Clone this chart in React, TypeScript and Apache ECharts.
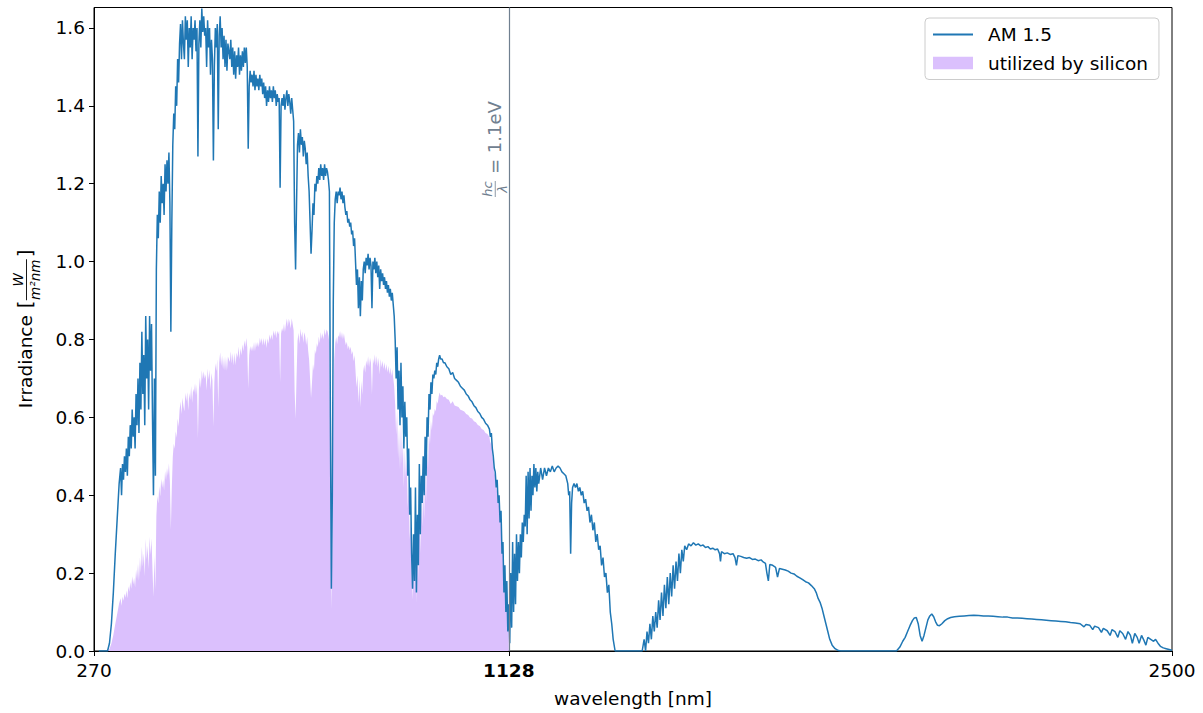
import React, { useEffect, useRef } from "react";
import * as echarts from "echarts";

// ---- data ----
const xTicks = [270, 1128, 2500];
const yTicks = [0, 0.2, 0.4, 0.6, 0.8, 1.0, 1.2, 1.4, 1.6];
const X_MIN = 270;
const X_MAX = 2500;
const Y_MAX = 1.6526;
const BAND_GAP_NM = 1128;

// AM 1.5 irradiance [nm, W/(m^2 nm)]
const am15: [number, number][] = [
  [280, 0], [290, 0], [298, 0], [302, 0.02], [306, 0.07], [310, 0.15], [314, 0.25], [318, 0.34], [322, 0.43],
  [325, 0.47], [327, 0.4], [329, 0.48], [331, 0.44], [333, 0.5], [335, 0.46], [337, 0.52], [339, 0.45],
  [341, 0.55], [343, 0.5], [345, 0.58], [347, 0.52], [349, 0.62], [351, 0.55], [353, 0.6], [355, 0.52],
  [357, 0.66], [359, 0.58], [361, 0.7], [363, 0.56], [365, 0.74], [367, 0.62], [369, 0.82], [371, 0.66],
  [373, 0.76], [375, 0.58], [377, 0.86], [379, 0.7], [381, 0.8], [383, 0.62], [385, 0.86], [387, 0.72],
  [389, 0.84], [391, 0.6], [393, 0.4], [395, 0.7], [397, 0.45], [399, 0.98], [401, 1.12], [403, 1.06],
  [405, 1.18], [407, 1.1], [409, 1.22], [411, 1.15], [413, 1.2], [415, 1.12], [417, 1.25], [419, 1.18],
  [421, 1.26], [423, 1.2], [425, 1.28], [427, 1.15], [429, 0.82], [431, 1.1], [433, 1.3], [435, 1.38],
  [437, 1.34], [439, 1.45], [441, 1.4], [443, 1.52], [445, 1.46], [447, 1.56], [449, 1.61], [451, 1.52],
  [453, 1.62], [455, 1.56], [457, 1.52], [459, 1.63], [461, 1.57], [463, 1.62], [465, 1.5], [467, 1.6],
  [469, 1.55], [471, 1.63], [473, 1.52], [475, 1.6], [477, 1.57], [479, 1.62], [481, 1.54], [483, 1.6],
  [485, 1.27], [487, 1.56], [489, 1.62], [491, 1.55], [493, 1.65], [495, 1.59], [497, 1.63], [499, 1.58],
  [501, 1.6], [503, 1.5], [505, 1.62], [507, 1.55], [509, 1.6], [511, 1.48], [513, 1.57], [515, 1.52],
  [517, 1.26], [519, 1.5], [521, 1.6], [523, 1.55], [525, 1.61], [527, 1.34], [529, 1.58], [531, 1.63],
  [533, 1.55], [535, 1.6], [537, 1.52], [539, 1.58], [541, 1.5], [543, 1.57], [545, 1.49], [547, 1.56],
  [549, 1.54], [551, 1.52], [553, 1.57], [555, 1.5], [557, 1.55], [559, 1.48], [561, 1.54], [563, 1.47],
  [565, 1.53], [567, 1.5], [569, 1.55], [571, 1.48], [573, 1.53], [575, 1.49], [577, 1.54], [579, 1.5],
  [581, 1.55], [583, 1.51], [585, 1.55], [587, 1.5], [589, 1.29], [591, 1.45], [593, 1.49], [595, 1.46],
  [597, 1.48], [599, 1.45], [601, 1.49], [603, 1.44], [605, 1.48], [607, 1.45], [609, 1.47], [611, 1.44],
  [613, 1.48], [615, 1.45], [617, 1.47], [619, 1.43], [621, 1.46], [623, 1.42], [625, 1.45], [627, 1.4],
  [629, 1.44], [631, 1.41], [633, 1.45], [635, 1.42], [637, 1.44], [639, 1.41], [641, 1.45], [643, 1.42],
  [645, 1.44], [647, 1.4], [649, 1.43], [651, 1.41], [653, 1.42], [655, 1.19], [657, 1.4], [659, 1.42],
  [661, 1.4], [663, 1.43], [665, 1.39], [667, 1.42], [669, 1.44], [671, 1.4], [673, 1.43], [675, 1.41],
  [677, 1.38], [679, 1.42], [681, 1.39], [683, 1.36], [685, 1.1], [687, 0.98], [689, 1.15], [691, 1.3],
  [693, 1.33], [695, 1.28], [697, 1.34], [699, 1.3], [701, 1.32], [703, 1.27], [705, 1.31], [707, 1.29],
  [709, 1.25], [711, 1.28], [713, 1.22], [715, 1.18], [717, 1.1], [719, 1.02], [721, 1.08], [723, 1.15],
  [725, 1.12], [727, 1.2], [729, 1.18], [731, 1.22], [733, 1.2], [735, 1.24], [737, 1.21], [739, 1.25],
  [741, 1.22], [743, 1.24], [745, 1.21], [747, 1.25], [749, 1.22], [751, 1.24], [753, 1.23], [755, 1.21],
  [757, 1.18], [759, 0.6], [761, 0.16], [763, 0.4], [765, 0.9], [767, 1.1], [769, 1.16], [771, 1.18],
  [773, 1.15], [775, 1.18], [777, 1.17], [779, 1.19], [781, 1.16], [783, 1.18], [785, 1.15], [787, 1.17],
  [789, 1.14], [791, 1.12], [793, 1.13], [795, 1.1], [797, 1.11], [799, 1.09], [801, 1.1], [803, 1.07],
  [805, 1.08], [807, 1.04], [809, 1.06], [811, 1.0], [813, 0.94], [815, 0.98], [817, 0.88], [819, 0.96],
  [821, 0.86], [823, 0.95], [825, 0.9], [827, 0.98], [829, 1.0], [831, 0.97], [833, 1.01], [835, 0.99],
  [837, 1.02], [839, 0.98], [841, 1.01], [843, 0.99], [845, 0.88], [847, 1.0], [849, 0.98], [851, 1.01],
  [853, 0.97], [855, 1.0], [857, 0.96], [859, 0.99], [861, 0.93], [863, 0.98], [865, 0.95], [867, 0.97],
  [869, 0.94], [871, 0.96], [873, 0.93], [875, 0.95], [877, 0.92], [879, 0.94], [881, 0.91], [883, 0.93],
  [885, 0.9], [887, 0.92], [889, 0.89], [891, 0.86], [893, 0.8], [895, 0.7], [897, 0.78], [899, 0.62],
  [901, 0.72], [903, 0.58], [905, 0.74], [907, 0.6], [909, 0.68], [911, 0.52], [913, 0.64], [915, 0.55],
  [917, 0.6], [919, 0.45], [921, 0.52], [923, 0.35], [925, 0.42], [927, 0.25], [929, 0.16], [931, 0.3],
  [933, 0.18], [935, 0.42], [937, 0.15], [939, 0.35], [941, 0.22], [943, 0.48], [945, 0.3], [947, 0.45],
  [949, 0.38], [951, 0.5], [953, 0.4], [955, 0.55], [957, 0.45], [959, 0.6], [961, 0.55], [963, 0.66],
  [965, 0.62], [967, 0.69], [969, 0.66], [971, 0.71], [973, 0.7], [975, 0.72], [977, 0.71], [979, 0.74],
  [981, 0.73], [983, 0.75], [985, 0.76], [987, 0.75], [990, 0.75], [993, 0.74], [996, 0.74], [1000, 0.73],
  [1004, 0.725], [1008, 0.71], [1012, 0.715], [1016, 0.7], [1020, 0.695], [1024, 0.69], [1028, 0.68],
  [1032, 0.675], [1036, 0.67], [1040, 0.66], [1044, 0.655], [1048, 0.645], [1052, 0.64], [1056, 0.63],
  [1060, 0.625], [1064, 0.615], [1068, 0.61], [1072, 0.6], [1076, 0.595], [1080, 0.585], [1084, 0.58],
  [1088, 0.57], [1090, 0.55], [1092, 0.56], [1094, 0.52], [1096, 0.5], [1098, 0.47], [1100, 0.46],
  [1102, 0.42], [1104, 0.44], [1106, 0.38], [1108, 0.4], [1110, 0.33], [1112, 0.36], [1114, 0.25],
  [1116, 0.28], [1118, 0.15], [1120, 0.22], [1122, 0.1], [1124, 0.18], [1126, 0.05], [1128, 0.12],
  [1130, 0.02], [1132, 0.2], [1134, 0.06], [1136, 0.28], [1138, 0.1], [1140, 0.25], [1142, 0.12],
  [1144, 0.3], [1146, 0.18], [1148, 0.28], [1150, 0.2], [1152, 0.3], [1154, 0.24], [1156, 0.33],
  [1158, 0.28], [1160, 0.35], [1162, 0.32], [1164, 0.45], [1166, 0.3], [1168, 0.46], [1170, 0.34],
  [1172, 0.47], [1174, 0.36], [1176, 0.45], [1178, 0.4], [1180, 0.48], [1182, 0.42], [1184, 0.47],
  [1186, 0.41], [1188, 0.46], [1190, 0.43], [1194, 0.47], [1198, 0.44], [1202, 0.47], [1206, 0.45],
  [1210, 0.47], [1214, 0.46], [1218, 0.475], [1222, 0.46], [1226, 0.47], [1230, 0.475], [1234, 0.47],
  [1238, 0.46], [1242, 0.455], [1246, 0.45], [1250, 0.43], [1252, 0.4], [1254, 0.41], [1256, 0.25],
  [1258, 0.38], [1260, 0.42], [1263, 0.43], [1266, 0.42], [1269, 0.43], [1272, 0.41], [1275, 0.42],
  [1278, 0.4], [1281, 0.41], [1284, 0.38], [1287, 0.39], [1290, 0.36], [1293, 0.37], [1296, 0.33],
  [1299, 0.35], [1302, 0.31], [1305, 0.33], [1308, 0.28], [1311, 0.3], [1314, 0.26], [1317, 0.27],
  [1320, 0.22], [1323, 0.24], [1326, 0.19], [1329, 0.2], [1332, 0.15], [1335, 0.17], [1338, 0.1],
  [1341, 0.07], [1344, 0.03], [1348, 0], [1400, 0], [1404, 0], [1408, 0.03], [1411, 0], [1414, 0.05],
  [1417, 0.02], [1420, 0.07], [1423, 0.03], [1426, 0.09], [1429, 0.05], [1432, 0.1], [1435, 0.06],
  [1438, 0.13], [1441, 0.08], [1444, 0.15], [1447, 0.09], [1450, 0.17], [1453, 0.11], [1456, 0.19],
  [1459, 0.12], [1462, 0.2], [1465, 0.14], [1468, 0.22], [1471, 0.16], [1474, 0.23], [1477, 0.18],
  [1480, 0.25], [1483, 0.2], [1486, 0.26], [1489, 0.23], [1492, 0.27], [1496, 0.26], [1500, 0.275],
  [1505, 0.27], [1510, 0.278], [1515, 0.272], [1520, 0.275], [1525, 0.27], [1530, 0.272], [1535, 0.266],
  [1540, 0.268], [1545, 0.262], [1550, 0.264], [1555, 0.26], [1560, 0.262], [1564, 0.25], [1566, 0.23],
  [1568, 0.255], [1574, 0.25], [1580, 0.252], [1586, 0.248], [1592, 0.25], [1596, 0.24], [1599, 0.22],
  [1602, 0.245], [1608, 0.243], [1614, 0.24], [1620, 0.238], [1626, 0.24], [1632, 0.235], [1638, 0.236],
  [1644, 0.232], [1650, 0.234], [1655, 0.228], [1659, 0.225], [1662, 0.2], [1665, 0.18], [1668, 0.222],
  [1674, 0.22], [1680, 0.215], [1684, 0.19], [1688, 0.212], [1694, 0.21], [1700, 0.208], [1706, 0.205],
  [1712, 0.2], [1718, 0.198], [1724, 0.192], [1730, 0.188], [1736, 0.183], [1742, 0.178], [1748, 0.175],
  [1754, 0.168], [1760, 0.16], [1764, 0.15], [1768, 0.135], [1772, 0.125], [1776, 0.11], [1780, 0.09],
  [1784, 0.07], [1788, 0.05], [1792, 0.03], [1797, 0.015], [1803, 0.006], [1810, 0.001], [1815, 0],
  [1930, 0], [1937, 0.01], [1943, 0.025], [1948, 0.035], [1953, 0.05], [1958, 0.065], [1963, 0.078],
  [1967, 0.085], [1971, 0.086], [1975, 0.07], [1979, 0.04], [1983, 0.025], [1987, 0.04], [1991, 0.06],
  [1995, 0.08], [1999, 0.09], [2003, 0.095], [2007, 0.088], [2011, 0.075], [2015, 0.066], [2019, 0.065],
  [2024, 0.07], [2030, 0.078], [2036, 0.083], [2042, 0.086], [2050, 0.088], [2060, 0.089], [2070, 0.09],
  [2080, 0.091], [2090, 0.092], [2100, 0.091], [2110, 0.09], [2120, 0.09], [2130, 0.089], [2140, 0.088],
  [2150, 0.087], [2160, 0.087], [2170, 0.085], [2180, 0.085], [2190, 0.084], [2200, 0.083], [2210, 0.082],
  [2220, 0.081], [2230, 0.08], [2240, 0.079], [2250, 0.078], [2260, 0.077], [2270, 0.076], [2280, 0.075],
  [2290, 0.073], [2300, 0.072], [2310, 0.07], [2318, 0.062], [2322, 0.068], [2330, 0.066], [2336, 0.055],
  [2340, 0.064], [2348, 0.06], [2354, 0.048], [2358, 0.058], [2366, 0.052], [2372, 0.04], [2376, 0.055],
  [2382, 0.05], [2388, 0.035], [2392, 0.052], [2398, 0.045], [2404, 0.03], [2409, 0.05], [2414, 0.04],
  [2418, 0.02], [2423, 0.045], [2428, 0.035], [2432, 0.02], [2437, 0.04], [2441, 0.03], [2446, 0.015],
  [2450, 0.035], [2456, 0.03], [2462, 0.025], [2466, 0.03], [2471, 0.02], [2476, 0.012], [2482, 0.008],
  [2488, 0.006], [2494, 0.004], [2500, 0.002],
];

// share of the irradiance a silicon cell (gap at 1128 nm) can use: E_gap / E_photon = lambda / lambda_gap
const utilized: [number, number][] = am15
  .filter(([l]) => l <= BAND_GAP_NM)
  .map(([l, v]) => [l, (v * l) / BAND_GAP_NM]);

const BLUE = "#1f77b4";
const PURPLE = "#dbc0fd";
const SLATE = "#708090";
const FONT = "DejaVu Sans";
const FS = 18.5;

export default function App() {
  const ref = useRef<HTMLDivElement>(null);

  useEffect(() => {
    document.body.style.margin = "0";
    if (!ref.current) return;
    const chart = echarts.init(ref.current, undefined, { renderer: "svg" });

    chart.setOption({
      animation: false,
      textStyle: { fontFamily: FONT },
      grid: {
        left: 94,
        right: 31,
        top: 7.5,
        bottom: 61.5,
        show: true,
        borderColor: "#000",
        borderWidth: 1,
        backgroundColor: "transparent",
      },
      legend: {
        orient: "vertical",
        left: 925,
        top: 18,
        padding: [7, 11, 7, 7],
        itemGap: 9.5,
        itemWidth: 40,
        itemHeight: 12.5,
        selectedMode: false,
        backgroundColor: "rgba(255,255,255,0.8)",
        borderColor: "#cccccc",
        borderWidth: 1,
        borderRadius: 4,
        textStyle: { fontSize: FS, fontFamily: FONT, color: "#000", padding: [0, 0, 0, 10] },
        data: [
          { name: "AM 1.5", itemStyle: { opacity: 0 } },
          { name: "utilized by silicon", icon: "rect", itemStyle: { borderWidth: 0, color: PURPLE } },
        ],
      },
      xAxis: {
        type: "value",
        min: X_MIN,
        max: X_MAX,
        name: "wavelength [nm]",
        nameLocation: "middle",
        nameGap: 38,
        nameTextStyle: { fontSize: FS, fontFamily: FONT, color: "#000" },
        axisLine: { show: true, onZero: false, lineStyle: { color: "#000", width: 1 } },
        axisTick: { show: true, length: 5, customValues: xTicks, lineStyle: { color: "#000", width: 1 } },
        axisLabel: {
          customValues: xTicks,
          margin: 10,
          fontSize: FS,
          fontFamily: FONT,
          color: "#000",
          formatter: (v: number) => (v === BAND_GAP_NM ? "{b|" + v + "}" : String(v)),
          rich: { b: { fontWeight: "bold", fontSize: FS, fontFamily: FONT, color: "#000" } },
        },
        splitLine: { show: false },
      },
      yAxis: {
        type: "value",
        min: 0,
        max: Y_MAX,
        axisLine: { show: true, onZero: false, lineStyle: { color: "#000", width: 1 } },
        axisTick: { show: true, length: 5, customValues: yTicks, lineStyle: { color: "#000", width: 1 } },
        axisLabel: {
          customValues: yTicks,
          margin: 9,
          fontSize: FS,
          fontFamily: FONT,
          color: "#000",
          formatter: (v: number) => v.toFixed(1),
        },
        splitLine: { show: false },
      },
      series: [
        {
          name: "utilized by silicon",
          type: "line",
          data: utilized,
          symbol: "none",
          silent: true,
          z: 1,
          lineStyle: { width: 0, color: PURPLE },
          itemStyle: { color: PURPLE },
          areaStyle: { color: PURPLE, opacity: 1 },
          markLine: {
            silent: true,
            symbol: ["none", "none"],
            label: { show: false },
            lineStyle: { color: SLATE, width: 1.2, type: "solid" },
            data: [{ xAxis: BAND_GAP_NM }],
          },
        },
        {
          name: "AM 1.5",
          type: "line",
          data: am15,
          symbol: "none",
          silent: true,
          z: 3,
          lineStyle: { width: 1.5, color: BLUE },
          itemStyle: { color: BLUE },
        },
      ],
    });

    const [gapX] = chart.convertToPixel({ gridIndex: 0 }, [BAND_GAP_NM, 0]) as number[];
    const [, yTop] = chart.convertToPixel({ gridIndex: 0 }, [X_MIN, Y_MAX]) as number[];
    const [, yBottom] = chart.convertToPixel({ gridIndex: 0 }, [X_MIN, 0]) as number[];
    const yMid = (yTop + yBottom) / 2;

    const labelLen = 158;
    chart.setOption({
      graphic: [
        {
          type: "group",
          x: 25,
          y: yMid + labelLen / 2,
          rotation: Math.PI / 2,
          silent: true,
          children: [
            { type: "text", x: 0, y: 0, style: { text: "Irradiance", fontSize: FS, fontFamily: FONT, fill: "#000", align: "left", verticalAlign: "middle" } },
            { type: "text", x: 100, y: 0, style: { text: "[", fontSize: FS + 1, fontFamily: FONT, fill: "#000", align: "left", verticalAlign: "middle" } },
            { type: "text", x: 128.5, y: -7, style: { text: "W", fontSize: 13.5, fontStyle: "italic", fontFamily: FONT, fill: "#000", align: "center", verticalAlign: "middle" } },
            { type: "line", shape: { x1: 108, y1: 1.5, x2: 149, y2: 1.5 }, style: { stroke: "#000", lineWidth: 0.9 } },
            { type: "text", x: 128.5, y: 10, style: { text: "m²nm", fontSize: 13.5, fontStyle: "italic", fontFamily: FONT, fill: "#000", align: "center", verticalAlign: "middle" } },
            { type: "text", x: 151, y: 0, style: { text: "]", fontSize: FS + 1, fontFamily: FONT, fill: "#000", align: "left", verticalAlign: "middle" } },
          ],
        },
        {
          type: "group",
          x: gapX - 14,
          y: 197,
          rotation: Math.PI / 2,
          silent: true,
          children: [
            { type: "text", x: 8, y: -7, style: { text: "hc", fontSize: 13, fontStyle: "italic", fontFamily: FONT, fill: SLATE, align: "center", verticalAlign: "middle" } },
            { type: "line", shape: { x1: 0, y1: 0.5, x2: 16, y2: 0.5 }, style: { stroke: SLATE, lineWidth: 0.8 } },
            { type: "text", x: 8, y: 8, style: { text: "λ", fontSize: 13, fontStyle: "italic", fontFamily: FONT, fill: SLATE, align: "center", verticalAlign: "middle" } },
            { type: "text", x: 23, y: 0, style: { text: "= 1.1eV", fontSize: 18, fontFamily: FONT, fill: SLATE, align: "left", verticalAlign: "middle" } },
          ],
        },
      ],
    });

    return () => chart.dispose();
  }, []);

  return <div ref={ref} style={{ width: 1203, height: 713 }} />;
}
